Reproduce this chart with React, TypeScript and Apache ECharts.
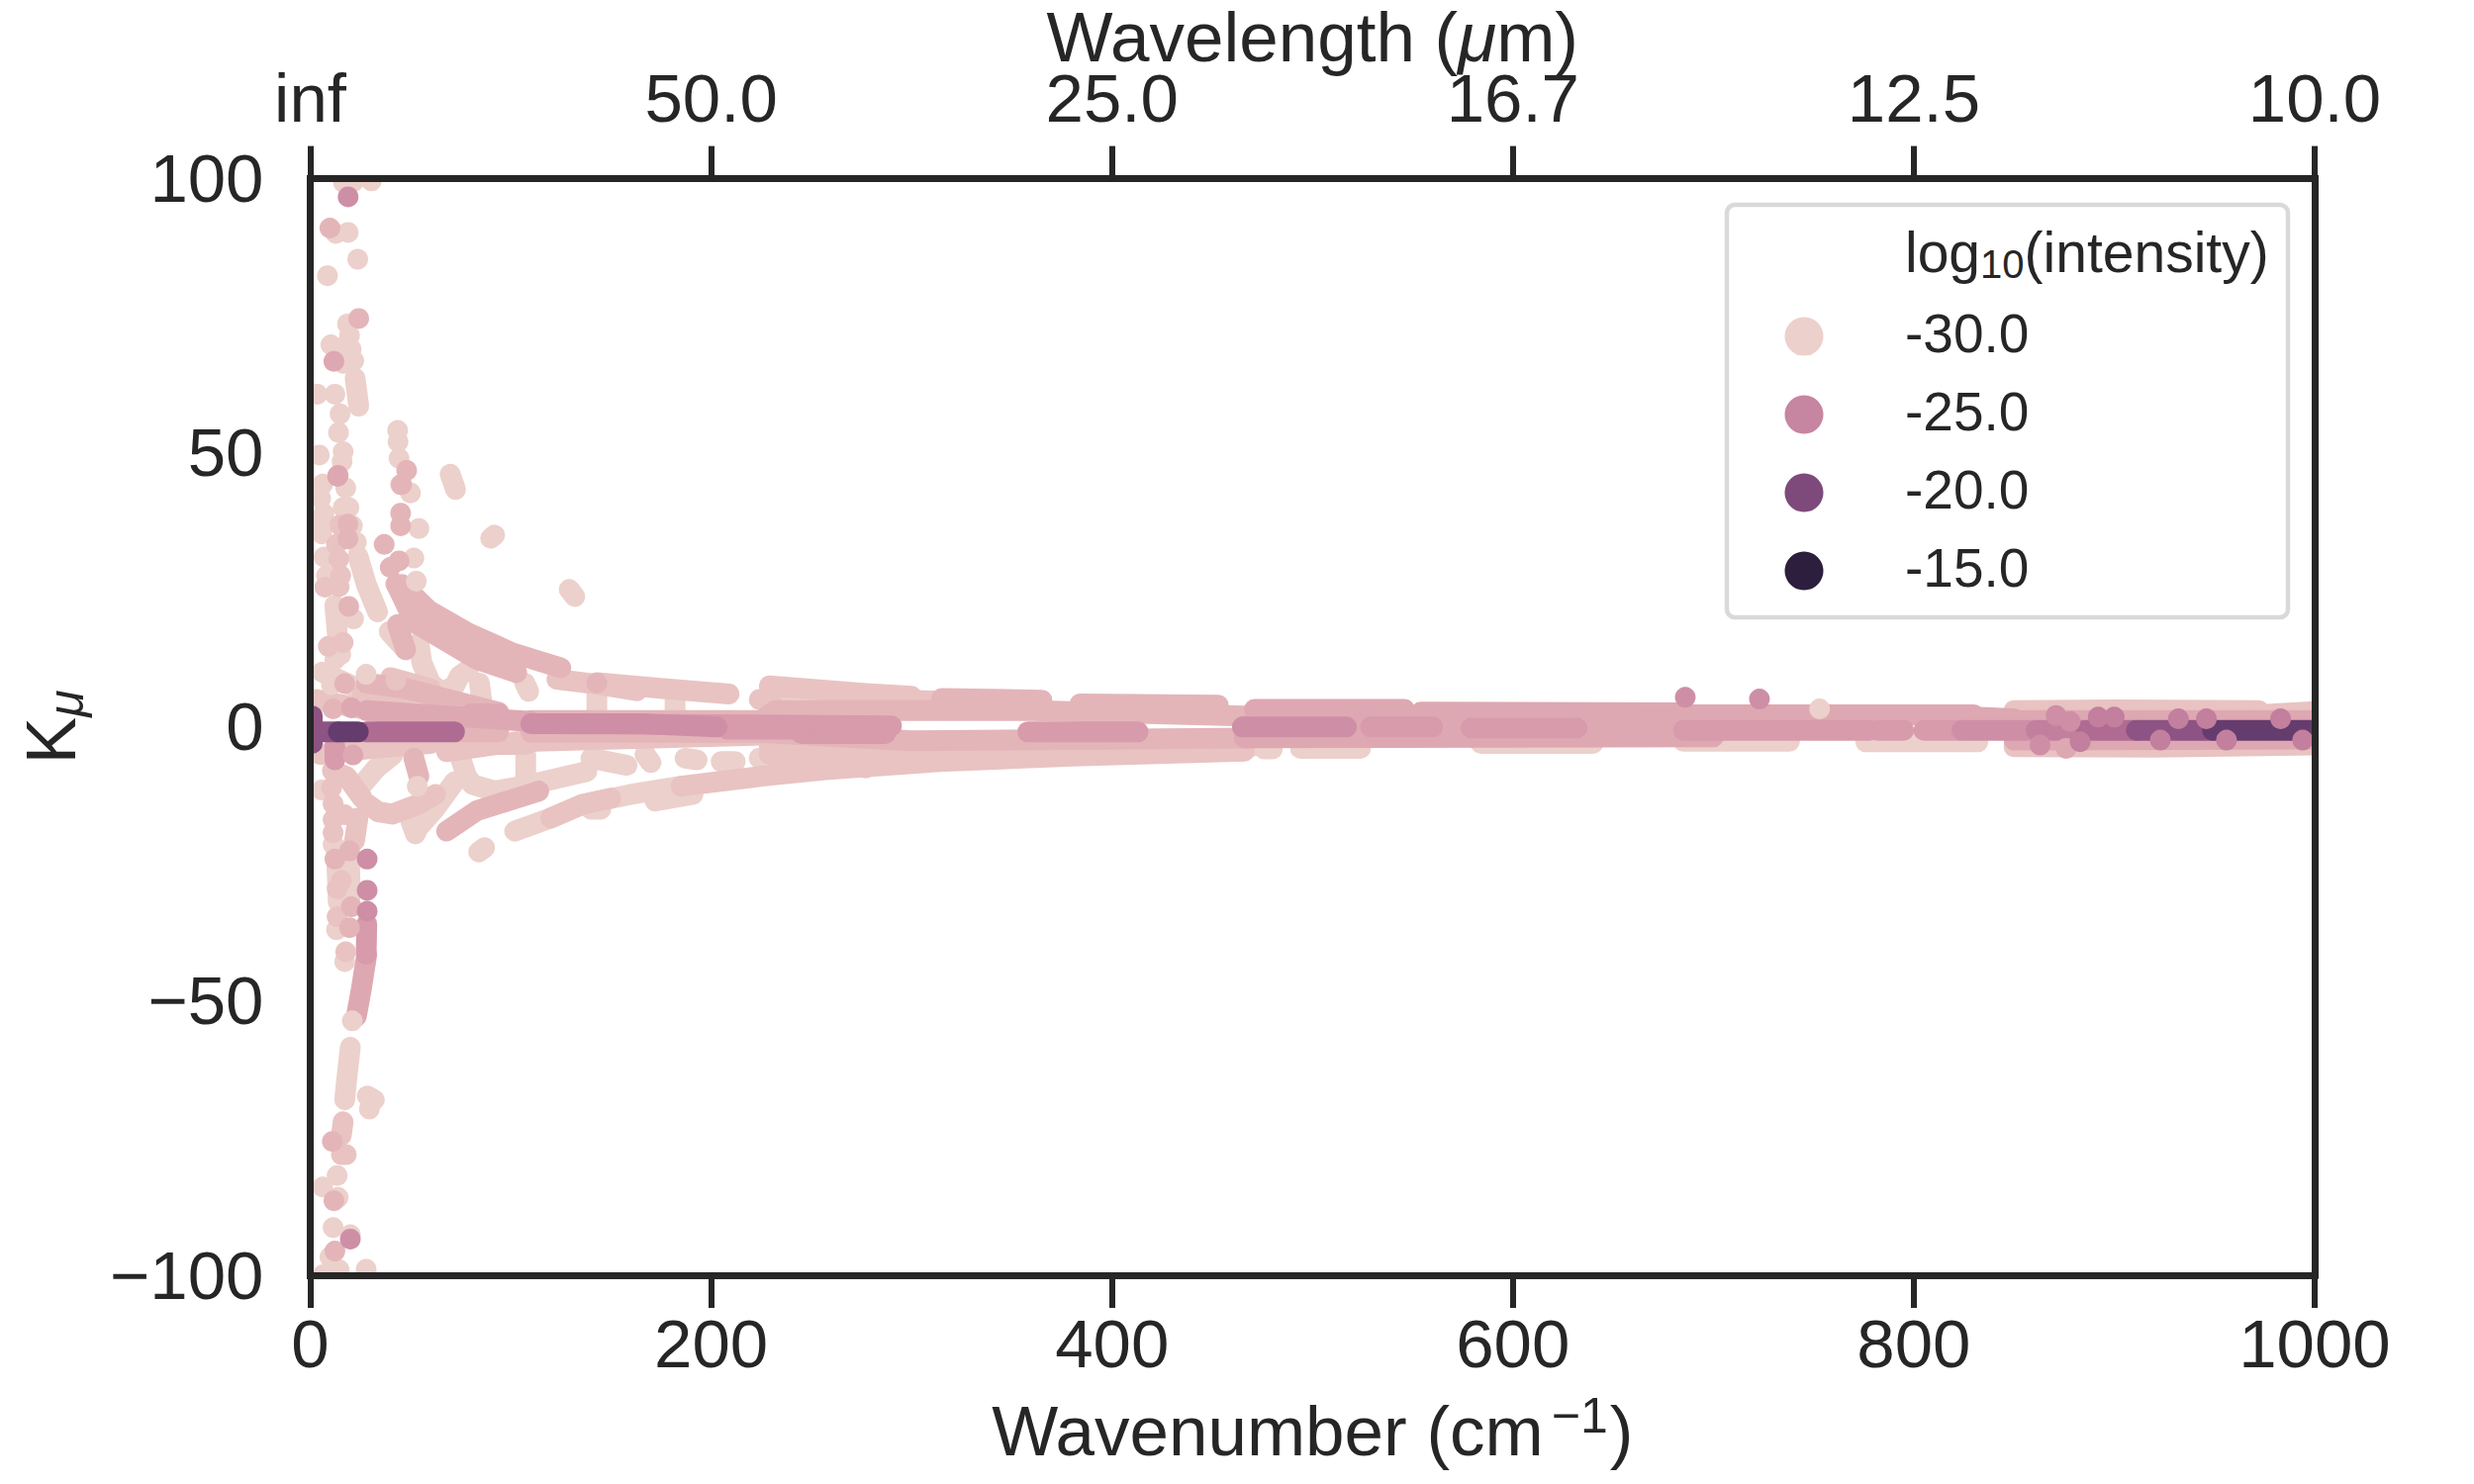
import React, { useEffect, useRef } from 'react';
import * as echarts from 'echarts';

type Pt = [number, number];

// top axis labels (wavelength in um for each wavenumber tick)
const wavelengthLabels = ['inf', '50.0', '25.0', '16.7', '12.5', '10.0'];
const legendLabels = ['-30.0', '-25.0', '-20.0', '-15.0'];
const legendColors = ['#ecd0cb', '#c685a0', '#7d4a7b', '#2d1e3e'];

// colours from palest to darkest, one per group of marks below
const levelColors = ['#ecd0cb', '#e8c3c2', '#e3b5b9', '#dea8b2', '#d79bac', '#ce8fa6', '#c37f9e', '#b06b93', '#8d5384', '#653c6e'];

// runs of overlapping lines, read as polylines [wavenumber, K]
const runs1: Pt[][] = [
  [[102, -19], [120, -16.6], [136, -14.1], [160, -12.3], [185, -10.8]],
  [[172, -13.5], [191, -12.3]],
  [[140, -15], [145, -15]],
  [[75, -5.7], [78, -9], [81, -10.5], [92, -11.7], [110, -10.5], [138, -8.1]],
  [[107.5, -5], [107.5, -10]],
  [[23.8, 31.2], [28, 26], [33.6, 21]],
  [[22.4, 63.6], [24.2, 58.5]],
  [[69.8, 46.1], [72.5, 43.3]],
  [[129.2, 25.1], [132, 23.8]],
  [[90, 34.4], [92, 35]],
  [[84, -22.8], [87, -22]],
  [[54.2, 15.3], [55.7, 11.7], [60, 8], [65.6, 6.3], [72, 7.5], [74.5, 9.3], [79, 10.5]],
  [[84.4, 8], [85.5, 5]],
  [[107, 8], [109, 6.5]],
  [[143, 7.5], [143, 3.3]],
  [[182, 5], [182, 3]],
  [[39.4, 17.4], [47.6, 14.1]],
  [[26, -10.5], [33, -7.5], [41.4, -5]],
  [[52.4, -19.5], [54, -18.3], [62, -15], [72, -10]],
  [[50, -17], [52, -19]],
  [[140, -5.7], [158, -7]],
  [[167, -5], [170, -6.5]],
  [[187, -5.7], [193, -6]],
  [[205, -6.3], [212, -6.3]],
  [[224, -5.7], [240, -5.7]],
  [[230, 4.8], [300, 3.8]],
  [[290, -6.5], [340, -5.6], [394, -5], [466, -4.3]],
  [[300, -5], [470, -3.5]],
  [[476, -4], [480, -4]],
  [[494, -3.9], [524, -3.9]],
  [[584, -3], [640, -3]],
  [[685, -2.6], [738, -2.6]],
  [[776, -2.7], [832, -2.7]],
  [[12.3, 22], [14, 15]],
  [[6, 10], [30, 6], [60, 4]],
  [[13, -22], [14, -32]],
  [[19.6, -25], [20, -31]],
  [[20, -58.4], [18, -64.9], [17.2, -68]],
  [[28.4, -67.3], [32, -68]],
];

const runs2: Pt[][] = [
  [[185, -10.8], [225, -9], [257, -7.8], [314, -6.3], [380, -5.3], [466, -4.4]],
  [[120, -16.6], [136, -14.1], [150, -13]],
  [[229, 7.5], [277, 6.1], [300, 5.6]],
  [[284, 5], [315, 4.7]],
  [[123, 8.7], [143, 7.8], [163, 6.6]],
  [[143, 8.1], [176, 7], [209, 6]],
  [[224, 5], [230, 4.8]],
  [[28.7, -14.1], [34, -15.5], [41, -15.9], [54, -14.1], [62.5, -12.3]],
  [[68, -4.5], [103, -2.7], [225, -1.5]],
  [[229, -3.5], [300, -4], [400, -3.2], [466, -2.6]],
  [[229, -5], [280, -6.5]],
  [[277, -4], [277, -7.5]],
  [[23.8, -16.6], [22.1, -20.8]],
  [[850, -3.6], [920, -3.7], [1000, -3.3]],
  [[850, 3], [900, 3.1], [972, 3]],
  [[972, 2.2], [1000, 2.8]],
  [[3, 5], [30, 3], [70, 1]],
  [[5, -5], [28, -4], [60, -3]],
  [[28, -3], [52, -3.2]],
  [[26, 6.3], [52, 6.3]],
  [[67, -3.2], [108, -3.2]],
  [[16.4, -72], [15.5, -74.5]],
  [[15.5, -78], [18, -78]],
  [[40, 9], [60, 7]],
  [[11, -8], [18, -9], [26, -13]],
];

const runs3: Pt[][] = [
  [[42.7, 26.1], [46, 23.7], [52, 19], [61, 17.1], [83.3, 12.3], [103, 9.9]],
  [[45.8, 26], [59, 21.3], [79, 17.1], [101, 13.5], [125, 10.8]],
  [[315, 5.2], [365, 4.9]],
  [[384, 4.2], [453, 4]],
  [[28, 8], [47.6, 7], [94, 2.7]],
  [[72, -0.9], [94, -0.9]],
  [[110, 1.2], [225, 1.2], [232, 3], [360, 3], [466, 2]],
  [[68, -19], [83, -15.3], [114, -11.7]],
  [[110, -1], [225, -1], [300, -2.5], [470, -2]],
  [[43.5, 18.7], [47.6, 14.1]],
  [[51.7, -5.7], [54.2, -9]],
];

const runs4: Pt[][] = [
  [[471, 3.2], [546, 3.2]],
  [[554, 2.7], [685, 2.6]],
  [[466, 0.2], [700, 0]],
  [[466, -2], [700, -1.8]],
  [[685, 2.2], [830, 2.2]],
  [[830, 1.8], [850, 1.5]],
  [[850, 1.2], [1000, 1.2]],
  [[850, -2.4], [1000, -2.2]],
  [[28, 3], [110, 1]],
  [[80, 2.4], [94, 2.4]],
  [[28.2, -41.5], [25.4, -48], [23, -52.8]],
];

const runs5: Pt[][] = [
  [[28.2, -35.9], [27.9, -41.5]],
  [[120, 0.6], [290, 0.2]],
  [[245, -1.2], [287, -1.2]],
  [[208, -0.4], [245, -0.4]],
  [[358, -0.9], [413, -0.9]],
  [[529, 0], [560, 0]],
  [[579, -0.2], [632, -0.2]],
  [[685, -0.6], [778, -0.6]],
  [[782, -0.6], [795, -0.6]],
  [[805, -0.6], [824, -0.6]],
  [[12.3, -3.5], [12.3, -6]],
];

const runs6: Pt[][] = [
  [[110, 0.6], [165, 0.6], [203, 0]],
  [[465, 0], [517, 0]],
  [[824, -0.6], [861, -0.6]],
];

const runs7: Pt[][] = [[[861, -0.6], [886, -0.6]]];
const runs8: Pt[][] = [
  [[28, -0.9], [72, -0.9]],
  [[886, -0.6], [911, -0.6]],
];
const runs9: Pt[][] = [
  [[1, -3], [1, 2]],
  [[0, -0.9], [14, -0.9]],
  [[911, -0.6], [949, -0.6]],
];
const runs10: Pt[][] = [
  [[14, -0.9], [24, -0.9]],
  [[949, -0.6], [1000, -0.6]],
];

// single points that stand clear of the runs
const dots1: Pt[] = [
  [30.5, 99.6], [16.6, 99.3], [21.7, 99.5], [12.8, 90], [18.9, 90.2], [23.7, 85.3], [8.6, 82.3], [18.6, 73.5],
  [19.6, 71.4], [10.3, 69.7], [17.9, 69.7], [20.4, 68.9], [16.6, 66.3], [21.7, 66.8], [3.5, 60.7], [12.3, 60.7],
  [14.9, 57.1], [14.1, 53.7], [43.6, 54.1], [43.8, 52], [44.3, 49], [16.4, 50.2], [15.9, 48.4], [4.5, 49.6],
  [50, 42.7], [6.2, 44.3], [17.7, 43.6], [5.2, 41.7], [16.4, 40], [19.3, 40], [6.8, 38.9], [21, 36.7], [4.8, 37],
  [5.7, 35.2], [23, 33.7], [6.8, 31], [8.1, 27.6], [54.2, 36.2], [51.7, 30.8], [52.9, 26.6], [12.3, 22.2],
  [21.6, 19.7], [12.3, 12.3], [15.2, 13.2], [10.6, 7.7], [27.9, 9.6], [753, 3.3], [53.4, -10.8], [5.7, -11.5],
  [11.4, -21.4], [19.6, -28.6], [19.6, -31], [13.1, -37], [17.2, -42.8], [13.4, -81.8], [6.2, -83.9], [13.9, -85.8],
  [11.4, -91.3], [20, -92.6], [9.8, -96.7], [27.9, -98.9], [14.4, -99], [6.5, -99.9], [29.5, -69.7], [21, -53.6],
];
const dots2: Pt[] = [
  [14.7, 36.8], [13.1, 33.3], [14.2, 30.6], [15.2, 27.6], [7.3, 25.5], [14.4, 25.6], [9, 14.7], [16.4, 15.4],
  [42.7, 8.5], [45.1, 44.2], [10.6, -11.1], [11.4, -14], [11.4, -16.9], [11.4, -19.3], [17.2, -16], [15.5, -28],
  [13.4, -29.5], [13.4, -34.6], [17.7, -41],
];
const dots3: Pt[] = [
  [9.8, 91], [24.2, 74.5], [48.1, 46.8], [45.6, 44.2], [45.1, 39], [45.1, 36.7], [18.8, 37], [18.8, 34.3], [36.9, 33.3],
  [44.3, 30.3], [39.9, 29.1], [19.2, 22], [17.2, 7.9], [11.4, 3.3], [143, 8], [19.6, -22.6], [12.3, -24.1],
  [20.5, -32.8], [19.6, -36.6], [12.3, -95.6], [11, -75.6], [11.8, -86.4],
];
const dots4: Pt[] = [[13.6, 45.7], [11.8, 66.7], [13.9, 45.9], [20.5, 3.5], [21.3, -5.1], [876, -3.9]];
const dots6: Pt[] = [
  [18.9, 96.7], [20, -93.4], [28.4, -24.1], [28.4, -29.8], [28.4, -33.6], [686, 5.4], [723, 5.1], [863, -3.3],
  [871, 2.1], [878, 1],
];
const dots7: Pt[] = [
  [883, -2.7], [892, 1.8], [900, 1.8], [923, -2.4], [932, 1.5], [946, 1.5], [956, -2.4], [983, 1.5], [994, -2.4],
];

const allRuns = [runs1, runs2, runs3, runs4, runs5, runs6, runs7, runs8, runs9, runs10];
const allDots: Pt[][] = [dots1, dots2, dots3, dots4, [], dots6, dots7, [], [], []];

const textColor = '#262626';
const fontFamily = '"Liberation Sans", Arial, sans-serif';
const markSize = 21;

const buildSeries = () => {
  const series: any[] = [];
  allRuns.forEach((runs, level) => {
    runs.forEach((run) => {
      series.push({
        type: 'line',
        data: run,
        symbol: 'none',
        lineStyle: { width: markSize, color: levelColors[level], cap: 'round', join: 'round' },
        z: 2,
        silent: true,
      });
    });
    series.push({
      type: 'scatter',
      symbolSize: markSize,
      data: allDots[level],
      itemStyle: { color: levelColors[level], opacity: 1 },
      z: 2,
      silent: true,
    });
  });
  return series;
};

const spine = { show: true, onZero: false, lineStyle: { color: textColor, width: 7, cap: 'square' } };
const xTick = { show: true, length: 33, lineStyle: { color: textColor, width: 6 } };

// white strips round the plot area, marks are cut off at the frame
const maskRects = [
  { x: 0, y: 0, width: 2500, height: 178 },
  { x: 0, y: 1292, width: 2500, height: 208 },
  { x: 0, y: 0, width: 311, height: 1500 },
  { x: 2342, y: 0, width: 158, height: 1500 },
];

export default function App() {
  const chartRef = useRef<HTMLDivElement>(null);

  useEffect(() => {
    if (!chartRef.current) return;
    const chart = echarts.init(chartRef.current, undefined, { renderer: 'svg' });

    const legendItems: any[] = legendLabels.flatMap((label, i) => [
      {
        type: 'circle',
        shape: { cx: 1823, cy: 340 + i * 79, r: 19.5 },
        style: { fill: legendColors[i] },
        z: 21,
      },
      {
        type: 'text',
        x: 1925,
        y: 337 + i * 79,
        style: { text: label, fontSize: 55, fontFamily, fill: textColor, verticalAlign: 'middle' },
        z: 21,
      },
    ]);

    chart.setOption({
      animation: false,
      backgroundColor: '#ffffff',
      grid: { left: 313.5, right: 161, top: 180.6, bottom: 211, outerBoundsMode: 'none' },
      xAxis: [
        {
          type: 'value',
          position: 'bottom',
          min: 0,
          max: 1000,
          interval: 200,
          z: 10,
          splitLine: { show: false },
          axisLine: spine,
          axisTick: xTick,
          axisLabel: { color: textColor, fontSize: 69, fontFamily, margin: 35, formatter: (v: number) => String(v) },
          name: 'Wavenumber (cm{sup|−1})',
          nameLocation: 'middle',
          nameMoveOverlap: false,
          nameGap: 117,
          nameTextStyle: {
            color: textColor,
            fontSize: 71,
            fontFamily,
            rich: {
              sup: { fontSize: 50, fontFamily, color: textColor, verticalAlign: 'top', lineHeight: 80, padding: [0, 2, 0, 8] },
            },
          },
        },
        {
          type: 'value',
          position: 'top',
          min: 0,
          max: 1000,
          interval: 200,
          z: 10,
          splitLine: { show: false },
          axisLine: spine,
          axisTick: xTick,
          axisLabel: {
            color: textColor,
            fontSize: 69,
            fontFamily,
            margin: 47,
            formatter: (v: number) => wavelengthLabels[v / 200],
          },
          name: 'Wavelength ({i|μ}m)',
          nameLocation: 'middle',
          nameMoveOverlap: false,
          nameGap: 117,
          nameTextStyle: {
            color: textColor,
            fontSize: 71,
            fontFamily,
            lineHeight: 52,
            rich: { i: { fontSize: 71, fontFamily, fontStyle: 'italic', color: textColor, lineHeight: 52 } },
          },
        },
      ],
      yAxis: [
        {
          type: 'value',
          position: 'left',
          min: -100,
          max: 100,
          interval: 50,
          z: 10,
          splitLine: { show: false },
          axisLine: spine,
          axisTick: { show: false },
          axisLabel: {
            color: textColor,
            fontSize: 69,
            fontFamily,
            margin: 47,
            formatter: (v: number) => String(v).replace('-', '−'),
          },
          name: 'K{sub|μ}',
          nameLocation: 'middle',
          nameMoveOverlap: false,
          nameRotate: 90,
          nameGap: 222,
          nameTextStyle: {
            color: textColor,
            fontSize: 71,
            fontFamily,
            rich: {
              sub: { fontSize: 50, fontFamily, fontStyle: 'italic', color: textColor, verticalAlign: 'bottom', lineHeight: 80 },
            },
          },
        },
        {
          type: 'value',
          position: 'right',
          min: -100,
          max: 100,
          interval: 50,
          z: 10,
          splitLine: { show: false },
          axisLine: spine,
          axisTick: { show: false },
          axisLabel: { show: false },
        },
      ],
      series: buildSeries(),
      graphic: [
        ...maskRects.map((shape) => ({ type: 'rect', shape, style: { fill: '#ffffff' }, z: 5 })),
        {
          type: 'rect',
          shape: { x: 1745, y: 207, width: 567, height: 417, r: 8 },
          style: { fill: '#ffffff', stroke: '#d9d9d9', lineWidth: 4.5 },
          z: 20,
        },
        {
          type: 'text',
          x: 1925,
          y: 255,
          style: {
            text: 'log{sub|10}(intensity)',
            fontSize: 57,
            fontFamily,
            fill: textColor,
            verticalAlign: 'middle',
            rich: { sub: { fontSize: 40, fontFamily, fill: textColor, verticalAlign: 'bottom', lineHeight: 64 } },
          },
          z: 21,
        },
        ...legendItems,
      ],
    });

    return () => {
      chart.dispose();
    };
  }, []);

  return <div ref={chartRef} style={{ position: 'fixed', left: 0, top: 0, width: 2500, height: 1500 }} />;
}
